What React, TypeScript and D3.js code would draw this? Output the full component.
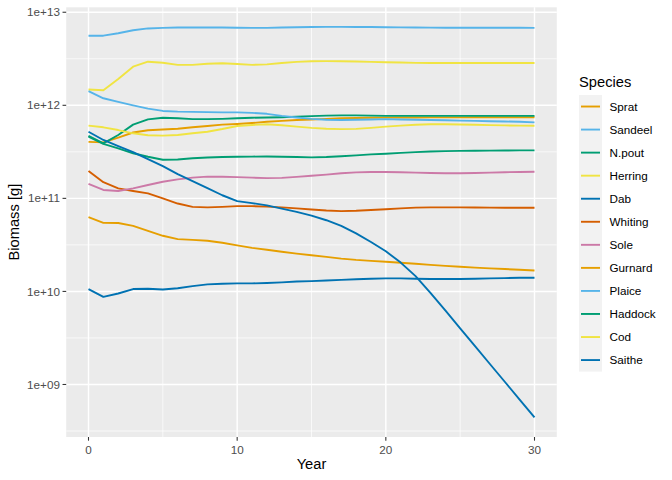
import React from "react";
import * as d3 from "d3";

const years = [0,1,2,3,4,5,6,7,8,9,10,11,12,13,14,15,16,17,18,19,20,21,22,23,24,25,26,27,28,29,30];

const species = ["Sprat","Sandeel","N.pout","Herring","Dab","Whiting","Sole","Gurnard","Plaice","Haddock","Cod","Saithe"];
const speciesColors = ["#E69F00","#56B4E9","#009E73","#F0E442","#0072B2","#D55E00","#CC79A7","#E69F00","#56B4E9","#009E73","#F0E442","#0072B2"];

const sprat = [4.05e11,4.0e11,4.5e11,5.1e11,5.4e11,5.5e11,5.6e11,5.8e11,6.0e11,6.2e11,6.3e11,6.45e11,6.65e11,6.8e11,6.95e11,7.05e11,7.15e11,7.25e11,7.3e11,7.35e11,7.38e11,7.4e11,7.4e11,7.42e11,7.42e11,7.42e11,7.43e11,7.43e11,7.43e11,7.43e11,7.43e11];
const sandeel = [5.6e12,5.6e12,5.95e12,6.4e12,6.7e12,6.8e12,6.85e12,6.85e12,6.85e12,6.85e12,6.82e12,6.8e12,6.8e12,6.85e12,6.9e12,6.95e12,6.97e12,6.97e12,6.95e12,6.93e12,6.9e12,6.88e12,6.85e12,6.83e12,6.82e12,6.82e12,6.82e12,6.82e12,6.82e12,6.82e12,6.8e12];
const npout = [4.7e11,3.9e11,4.8e11,6.2e11,7.05e11,7.35e11,7.25e11,7.1e11,7.1e11,7.15e11,7.25e11,7.35e11,7.4e11,7.45e11,7.55e11,7.65e11,7.75e11,7.8e11,7.8e11,7.75e11,7.7e11,7.7e11,7.7e11,7.7e11,7.7e11,7.7e11,7.7e11,7.7e11,7.7e11,7.7e11,7.7e11];
const herring = [1.48e12,1.45e12,1.92e12,2.6e12,2.94e12,2.87e12,2.72e12,2.72e12,2.8e12,2.83e12,2.78e12,2.72e12,2.75e12,2.85e12,2.93e12,2.97e12,2.98e12,2.97e12,2.96e12,2.93e12,2.9e12,2.88e12,2.86e12,2.85e12,2.85e12,2.85e12,2.85e12,2.85e12,2.85e12,2.85e12,2.85e12];
const dab = [1.06e10,8.75e9,9.5e9,1.06e10,1.07e10,1.05e10,1.08e10,1.14e10,1.19e10,1.21e10,1.22e10,1.22e10,1.23e10,1.25e10,1.28e10,1.29e10,1.31e10,1.33e10,1.35e10,1.37e10,1.38e10,1.38e10,1.37e10,1.36e10,1.36e10,1.36e10,1.37e10,1.38e10,1.39e10,1.4e10,1.4e10];
const whiting = [1.97e11,1.49e11,1.28e11,1.2e11,1.13e11,1.0e11,8.8e10,8.1e10,8.0e10,8.1e10,8.25e10,8.25e10,8.15e10,8.0e10,7.8e10,7.6e10,7.4e10,7.3e10,7.35e10,7.5e10,7.65e10,7.8e10,7.95e10,8.0e10,8.0e10,8.0e10,7.98e10,7.95e10,7.93e10,7.92e10,7.92e10];
const sole = [1.43e11,1.23e11,1.2e11,1.28e11,1.39e11,1.51e11,1.6e11,1.67e11,1.71e11,1.71e11,1.69e11,1.67e11,1.65e11,1.66e11,1.7e11,1.75e11,1.8e11,1.86e11,1.9e11,1.92e11,1.92e11,1.91e11,1.89e11,1.87e11,1.86e11,1.86e11,1.87e11,1.89e11,1.91e11,1.92e11,1.93e11];
const gurnard = [6.3e10,5.45e10,5.43e10,5.07e10,4.48e10,3.96e10,3.65e10,3.58e10,3.5e10,3.33e10,3.12e10,2.94e10,2.8e10,2.67e10,2.55e10,2.45e10,2.35e10,2.25e10,2.18e10,2.13e10,2.08e10,2.03e10,1.98e10,1.93e10,1.88e10,1.84e10,1.8e10,1.77e10,1.74e10,1.71e10,1.68e10];
const plaice = [1.42e12,1.19e12,1.09e12,1.0e12,9.2e11,8.7e11,8.55e11,8.5e11,8.45e11,8.4e11,8.4e11,8.3e11,8.1e11,7.7e11,7.4e11,7.15e11,7.0e11,6.95e11,7.0e11,7.05e11,7.1e11,7.05e11,7.0e11,6.95e11,6.9e11,6.85e11,6.8e11,6.75e11,6.7e11,6.65e11,6.56e11];
const haddock = [4.6e11,3.85e11,3.45e11,3.05e11,2.8e11,2.6e11,2.62e11,2.7e11,2.75e11,2.78e11,2.8e11,2.81e11,2.82e11,2.8e11,2.78e11,2.76e11,2.78e11,2.83e11,2.9e11,2.97e11,3.02e11,3.08e11,3.14e11,3.19e11,3.22e11,3.24e11,3.25e11,3.26e11,3.27e11,3.28e11,3.28e11];
const cod = [6.05e11,5.8e11,5.42e11,5.0e11,4.76e11,4.72e11,4.8e11,5.0e11,5.2e11,5.56e11,6.0e11,6.15e11,6.25e11,6.1e11,5.9e11,5.72e11,5.6e11,5.55e11,5.58e11,5.72e11,5.9e11,6.05e11,6.18e11,6.25e11,6.25e11,6.22e11,6.18e11,6.12e11,6.08e11,6.05e11,6.04e11];
const saithe = [5.2e11,4.24e11,3.65e11,3.14e11,2.64e11,2.22e11,1.82e11,1.53e11,1.29e11,1.08e11,9.34e10,8.9e10,8.41e10,7.76e10,7.16e10,6.53e10,5.82e10,5.05e10,4.2e10,3.4e10,2.7e10,2.04e10,1.46e10,9.66e9,6.24e9,4.01e9,2.58e9,1.66e9,1.07e9,6.87e8,4.42e8];

const seriesValues = [sprat,sandeel,npout,herring,dab,whiting,sole,gurnard,plaice,haddock,cod,saithe];

const xTicks = [0,10,20,30];
const xMinor = [5,15,25];
const yTicks = [1e9,1e10,1e11,1e12,1e13];
const yTickLabels = ["1e+09","1e+10","1e+11","1e+12","1e+13"];
const yMinor = [10**8.5,10**9.5,10**10.5,10**11.5,10**12.5];

const W = 672, H = 480;
const panel = { left: 66.2, right: 556.8, top: 7.3, bottom: 437 };
const FONT = "'Liberation Sans', Arial, Helvetica, sans-serif";

export default function App() {
  const xMin = d3.min(years)!, xMax = d3.max(years)!;
  const xPad = (xMax - xMin) * 0.05;
  const x = d3.scaleLinear().domain([xMin - xPad, xMax + xPad]).range([panel.left, panel.right]);

  const all = seriesValues.flat();
  const lmin = Math.log10(d3.min(all)!), lmax = Math.log10(d3.max(all)!);
  const lpad = (lmax - lmin) * 0.05;
  const y = d3.scaleLog().domain([10 ** (lmin - lpad), 10 ** (lmax + lpad)]).range([panel.bottom, panel.top]);

  const line = d3.line<number>().x((_, i) => x(years[i])).y((d) => y(d));

  const legendX = 579;
  const legendTop = 95;
  const rowH = 23.05;

  return (
    <svg width={W} height={H} style={{ position: "absolute", left: 0, top: 0, background: "#fff" }} fontFamily={FONT}>
      <rect x={panel.left} y={panel.top} width={panel.right - panel.left} height={panel.bottom - panel.top} fill="#EBEBEB" />
      {yMinor.map((v, i) => (
        <line key={"ym" + i} x1={panel.left} x2={panel.right} y1={y(v)} y2={y(v)} stroke="#fff" strokeWidth={0.71} />
      ))}
      {xMinor.map((v, i) => (
        <line key={"xm" + i} x1={x(v)} x2={x(v)} y1={panel.top} y2={panel.bottom} stroke="#fff" strokeWidth={0.71} />
      ))}
      {yTicks.map((v, i) => (
        <line key={"yg" + i} x1={panel.left} x2={panel.right} y1={y(v)} y2={y(v)} stroke="#fff" strokeWidth={1.42} />
      ))}
      {xTicks.map((v, i) => (
        <line key={"xg" + i} x1={x(v)} x2={x(v)} y1={panel.top} y2={panel.bottom} stroke="#fff" strokeWidth={1.42} />
      ))}
      {seriesValues.map((vals, i) => (
        <path key={species[i]} d={line(vals) || ""} fill="none" stroke={speciesColors[i]} strokeWidth={1.9} strokeLinejoin="round" strokeLinecap="butt" />
      ))}
      {yTicks.map((v, i) => (
        <g key={"yt" + i}>
          <line x1={panel.left - 3.67} x2={panel.left} y1={y(v)} y2={y(v)} stroke="#333333" strokeWidth={1.07} />
          <text x={panel.left - 6.3} y={y(v)} dy="0.35em" textAnchor="end" fontSize={11.7} fill="#4D4D4D">{yTickLabels[i]}</text>
        </g>
      ))}
      {xTicks.map((v, i) => (
        <g key={"xt" + i}>
          <line x1={x(v)} x2={x(v)} y1={panel.bottom} y2={panel.bottom + 3.67} stroke="#333333" strokeWidth={1.07} />
          <text x={x(v)} y={panel.bottom + 16.5} textAnchor="middle" fontSize={11.7} fill="#4D4D4D">{v}</text>
        </g>
      ))}
      <text x={(panel.left + panel.right) / 2} y={469} textAnchor="middle" fontSize={14.7} fill="#000">Year</text>
      <text transform={`translate(18.8, ${(panel.top + panel.bottom) / 2}) rotate(-90)`} textAnchor="middle" fontSize={14.7} fill="#000">Biomass [g]</text>
      <text x={legendX} y={86.5} fontSize={14.7} fill="#000">Species</text>
      <rect x={legendX} y={legendTop} width={23} height={rowH * species.length} fill="#F2F2F2" />
      {species.map((s, i) => {
        const cy = legendTop + rowH * (i + 0.5);
        return (
          <g key={"lg" + s}>
            <line x1={legendX + 2} x2={legendX + 21} y1={cy} y2={cy} stroke={speciesColors[i]} strokeWidth={1.9} />
            <text x={609.5} y={cy} dy="0.35em" fontSize={11.7} fill="#000">{s}</text>
          </g>
        );
      })}
    </svg>
  );
}
